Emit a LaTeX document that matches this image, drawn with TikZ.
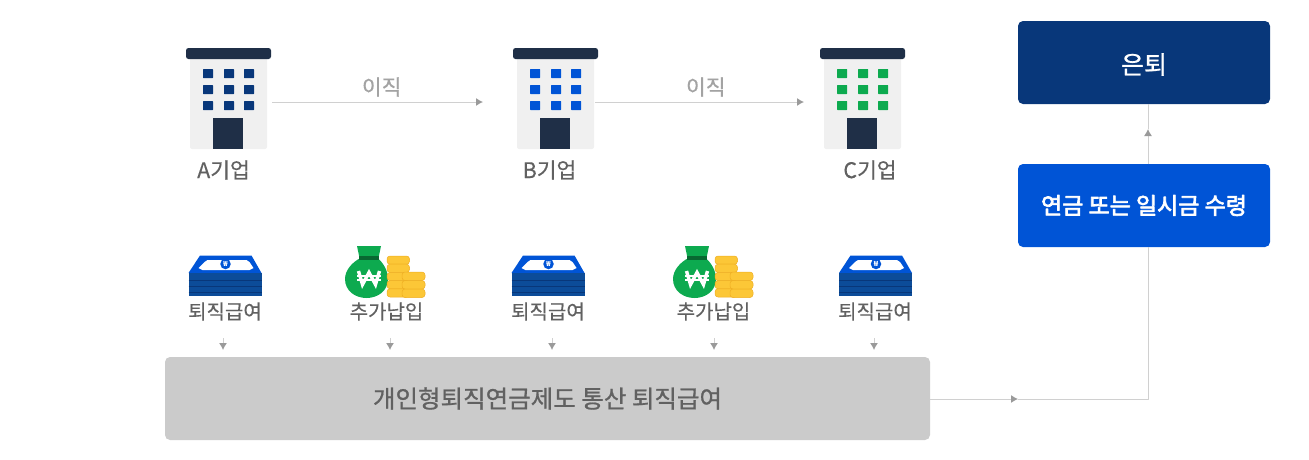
\documentclass[tikz,border=0pt]{standalone}
\usepackage{fontspec}
\setmainfont{Noto Sans CJK KR}
\newfontfamily\midfont[FakeBold=0.35]{Noto Sans CJK KR}
\newfontfamily\semifont[FakeBold=0.8]{Noto Sans CJK KR}
\newfontfamily\strongfont[FakeBold=3]{Noto Sans CJK KR}
\usetikzlibrary{arrows.meta}
\definecolor{navy}{HTML}{08377A}
\definecolor{azure}{HTML}{0054D6}
\definecolor{leaf}{HTML}{0DAA4F}
\definecolor{roof}{HTML}{1F2F47}
\definecolor{wall}{HTML}{F0F0F0}
\definecolor{coin}{HTML}{FCC737}
\definecolor{coinedge}{HTML}{EFAE22}
\definecolor{plate}{HTML}{CBCBCB}
\definecolor{wire}{HTML}{D0D0D0}
\definecolor{tip}{HTML}{9A9A9A}
\definecolor{stack}{HTML}{0C4C99}
\tikzset{
	flow/.style={draw=wire, line width=1pt},
	tipped/.style={flow, -{Latex[length=7pt,width=8pt,color=tip]}},
	caption/.style={text=black!62, font=\fontsize{20}{22}\midfont, inner sep=0pt},
	firm/.style={text=black!62, font=\fontsize{21.5}{23}\midfont, inner sep=0pt},
	move/.style={text=black!36, font=\fontsize{21.5}{23}\midfont, inner sep=0pt},
	panel/.style={rounded corners=5pt, minimum width=252pt, minimum height=83pt, inner sep=0pt, text=white},
	pics/building/.style={code={
		\fill[wall, rounded corners=2pt] (-38.5,55) rectangle (38.5,149);
		\fill[roof, rounded corners=2.5pt] (-42.5,48) rectangle (42.5,59);
		\foreach \wx in {-25.5,-4.5,15.5}
			\foreach \wy in {69,85,101}
				\fill[#1, rounded corners=0.5pt] (\wx,\wy) rectangle +(10,9);
		\fill[roof] (-15.5,118) rectangle (14.5,149);
	}},
	pics/cash/.style={code={
		\fill[azure] (-24.5,255.5) -- (27,255.5) -- (37,273) -- (-36,273) -- cycle;
		\fill[white] (-20,262) -- (-17,260) -- (22,260) -- (25,262) -- (29,268) -- (25,270) -- (-22,270) -- (-26,268) -- cycle;
		\fill[stack] (-36,273) rectangle (37,296);
		\foreach \sy in {280,286,292}
			\draw[navy, line width=1pt] (-36,\sy) -- (37,\sy);
		\node[circle, fill=azure, text=white, inner sep=0pt, minimum size=10.5pt, font=\fontsize{7}{7}\selectfont\bfseries] (-won) at (1,264) {₩};
	}},
	pics/moneybag/.style={code={
		\fill[leaf] (-9.5,246) -- (14.5,246) -- (12,258) -- (-7,258) -- cycle;
		\fill[leaf] (-6,258) .. controls (-14,262) and (-21.5,270) .. (-21.5,279) .. controls (-21.5,291) and (-11,298) .. (0,298) .. controls (11,298) and (21.5,291) .. (21.5,279) .. controls (21.5,270) and (16,262) .. (11,258) -- cycle;
		\fill[leaf!62!black] (-7.5,256) rectangle (12.5,260);
		\foreach \cy in {256,264.2,272.4,280.6,288.8}
			\fill[coin, draw=coinedge, line width=0.5pt, rounded corners=3pt] (20.5,\cy) rectangle +(22.5,8.2);
		\foreach \cy in {272,280.5,289}
			\fill[coin, draw=coinedge, line width=0.5pt, rounded corners=3pt] (35.5,\cy) rectangle +(23,8.5);
		\draw[white, line width=3.4pt, line join=miter] (-8,271) -- (-4,284.5) -- (2.5,272.5) -- (9,284.5) -- (13,271);
		\draw[white, line width=2pt] (-9.5,276) -- (14.5,276) (-9.5,279.5) -- (14.5,279.5);
	}}
}
\begin{document}
\begin{tikzpicture}[x=1pt, y=-1pt, line join=round, >=stealth]
	\useasboundingbox (0,0) rectangle (1309,459);
	% buildings
	\pic at (228.5,0) {building=navy};
	\pic at (555.5,0) {building=azure};
	\pic at (862.5,0) {building=leaf};
	\node[firm] (namea) at (223.5,170) {A기업};
	\node[firm] (nameb) at (549.5,170) {B기업};
	\node[firm] (namec) at (870,170) {C기업};
	\coordinate (starta) at (272,102);
	\coordinate (enda) at (483,102);
	\coordinate (startb) at (595,102);
	\coordinate (endb) at (804,102);
	\draw[tipped] (starta) -- node[move, pos=0.52, yshift=15pt] (movea) {이직} (enda);
	\draw[tipped] (startb) -- node[move, pos=0.53, yshift=15pt] (moveb) {이직} (endb);
	% payments
	\pic (casha) at (224.5,0) {cash};
	\pic at (366.5,0) {moneybag};
	\pic (cashc) at (547.5,0) {cash};
	\pic at (694.5,0) {moneybag};
	\pic (cashe) at (875,0) {cash};
	\node[caption] (paya) at (225,311.5) {퇴직급여};
	\node[caption] (payb) at (386.5,311.5) {추가납입};
	\node[caption] (payc) at (548,311.5) {퇴직급여};
	\node[caption] (payd) at (713.5,311.5) {추가납입};
	\node[caption] (paye) at (875,311.5) {퇴직급여};
	% totals
	\node[panel, fill=plate, minimum width=765pt, text=black!62, font=\fontsize{24.5}{26}\semifont] (total) at (547.5,398.5) {개인형퇴직연금제도 통산 퇴직급여};
	\node[panel, fill=navy, font=\fontsize{25}{27}\semifont] (retire) at (1144,62.5) {\raisebox{-2pt}[\height][\depth]{은퇴}};
	\node[panel, fill=azure, font=\fontsize{23}{25}\strongfont] (lump) at (1144,205.5) {연금 또는 일시금 수령};
	\foreach \px/\pname in {223/a,390/b,552/c,714/d,874/e}{
		\coordinate (top\pname) at (\px,338);
		\coordinate (low\pname) at (\px,350);
		\draw[tipped] (top\pname) -- (low\pname);
	}
	\coordinate (midh) at (1018,399);
	\coordinate (turn) at (1148,399);
	\coordinate (leave) at (1148,247);
	\coordinate (rise) at (1148,164);
	\coordinate (midv) at (1148,129);
	\coordinate (arrive) at (1148,104);
	\draw[tipped] (total.east |- midh) -- (midh);
	\draw[flow] (midh) -- (turn) -- (leave);
	\draw[tipped] (rise) -- (midv);
	\draw[flow] (midv) -- (arrive);
\end{tikzpicture}
\end{document}
